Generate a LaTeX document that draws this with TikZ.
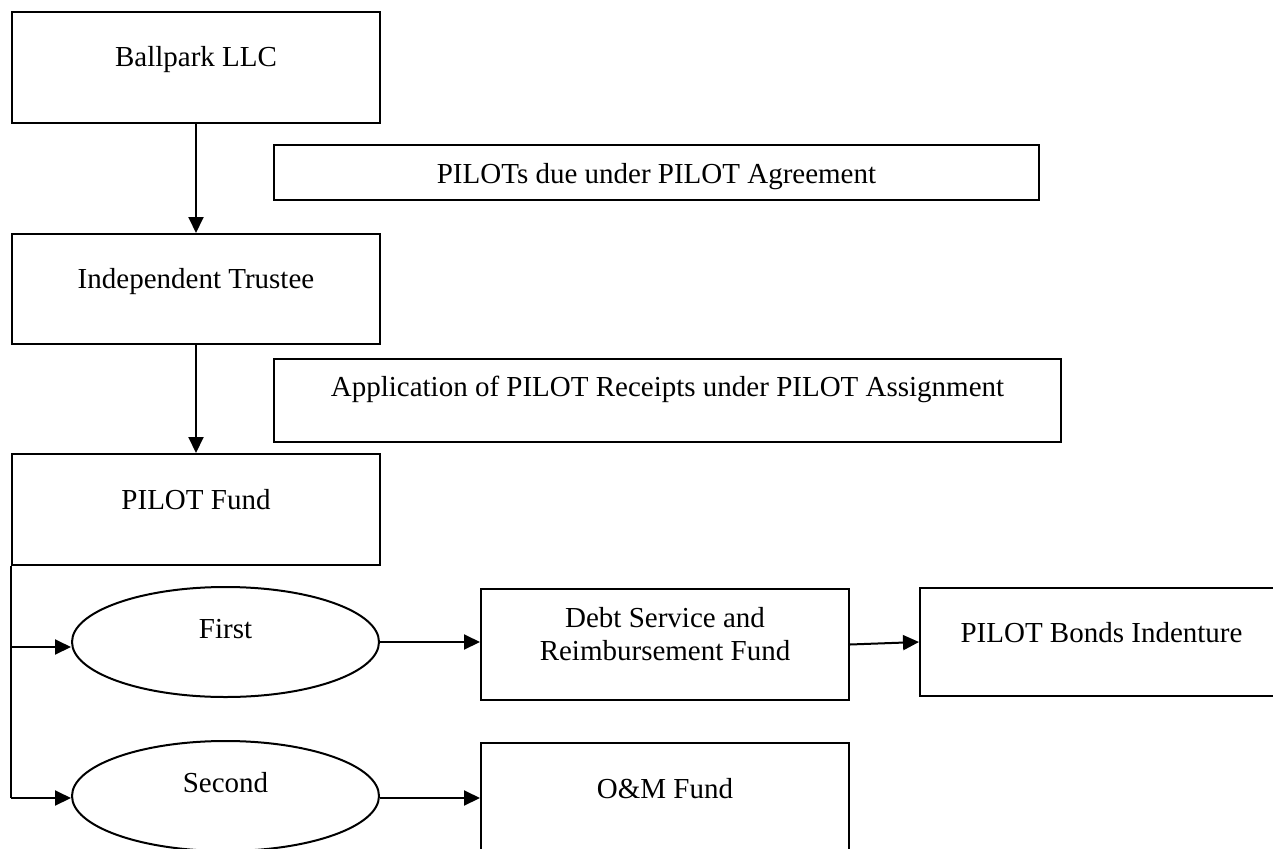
\documentclass[tikz,border=0pt]{standalone}
\usepackage{fontspec}
\setmainfont{Liberation Serif}
\usetikzlibrary{arrows.meta,shapes.geometric}
\begin{document}
\begin{tikzpicture}[x=1pt,y=-1pt,
  every node/.style={font=\fontsize{29}{33}\selectfont},
  box/.style={draw,line width=2pt,rectangle,inner sep=0pt,anchor=north west},
  oval/.style={draw,line width=2pt,ellipse,inner sep=0pt,minimum width=307pt,minimum height=110pt,text height=12pt,text depth=20pt},
  flow/.style={line width=2pt,-{Triangle[length=16pt,width=15pt]}},
  link/.style={line width=2pt}]
\useasboundingbox (0,0) rectangle (1273,848);
\node[box,minimum width=368pt,text height=55pt,text depth=56pt] (ballpark) at (11,11) {Ballpark LLC};
\node[box,minimum width=765pt,text height=38pt,text depth=17pt] (pilots) at (273,144) {PILOTs due under PILOT Agreement};
\node[box,minimum width=368pt,text height=54pt,text depth=56pt] (trustee) at (11,233) {Independent Trustee};
\node[box,minimum width=787pt,text height=37pt,text depth=46pt] (app) at (273,358) {Application of PILOT Receipts under PILOT Assignment};
\node[box,minimum width=368pt,text height=55pt,text depth=56pt] (fund) at (11,453) {PILOT Fund};
\node[box,minimum width=368pt,text height=71pt,text depth=40pt] (debt) at (480,588) {\begin{tabular}[b]{@{}c@{}}Debt Service and\\Reimbursement Fund\end{tabular}};
\node[box,minimum width=363pt,text height=54pt,text depth=54pt] (bonds) at (919,587) {PILOT Bonds Indenture};
\node[box,minimum width=368pt,text height=55pt,text depth=56pt] (om) at (480,742) {O\&M Fund};
\node[oval] (first) at (225.5,642) {First};
\node[oval] (second) at (225.5,796) {Second};
\coordinate (b1) at (11,647);
\coordinate (b2) at (11,798);
\draw[flow] (ballpark.south) -- (trustee.north);
\draw[flow] (trustee.south) -- (fund.north);
\draw[link] (fund.south west) -- (b2);
\draw[flow] (b1) -- (b1 -| first.west);
\draw[flow] (b2) -- (b2 -| second.west);
\draw[flow] (first.east) -- (first.east -| debt.west);
\draw[flow] (debt.east) -- (bonds.west);
\draw[flow] (second.east |- b2) -- (b2 -| om.west);
\end{tikzpicture}
\end{document}
